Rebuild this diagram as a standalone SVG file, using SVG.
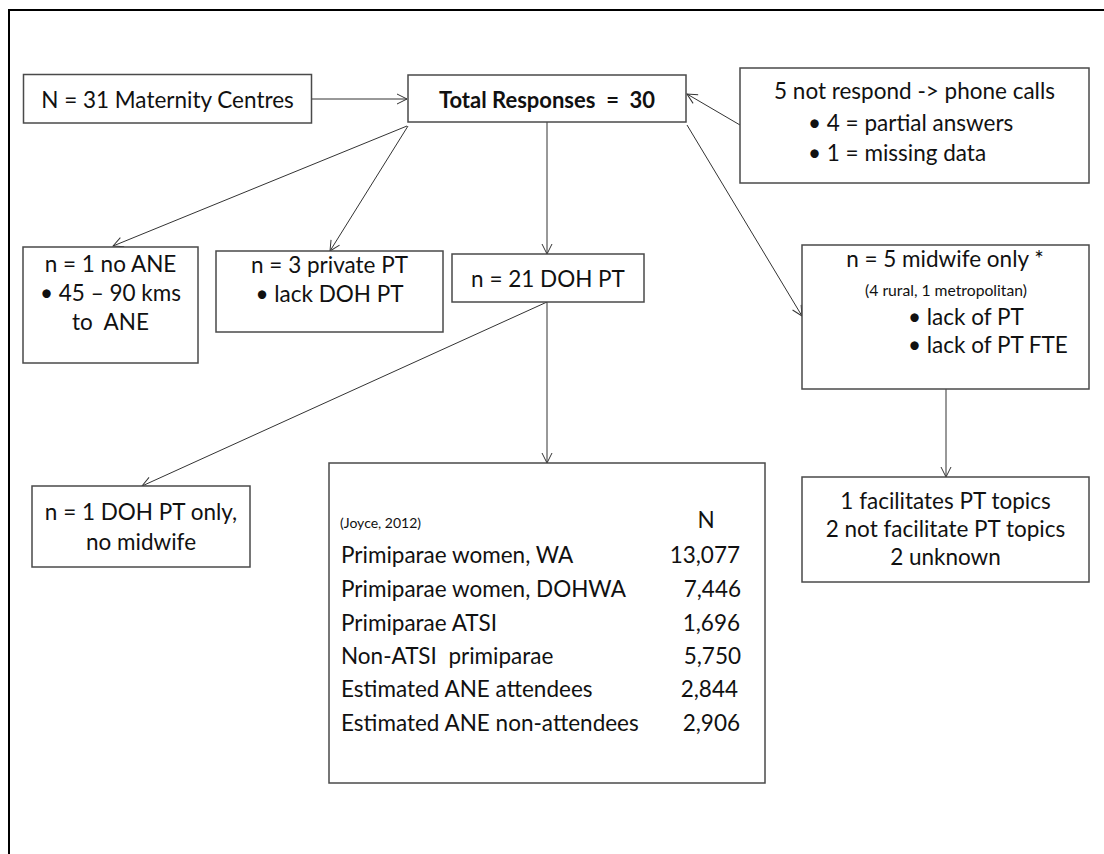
<svg xmlns="http://www.w3.org/2000/svg" width="1104" height="854" viewBox="0 0 1104 854">
<style>
.box{fill:#fff;stroke:#4a4a4a;stroke-width:1.5}
.t{font-family:Lato,"Liberation Sans",sans-serif;font-size:22.5px;fill:#111;white-space:pre}
.c{text-anchor:middle}
.e{text-anchor:end}
.s{font-size:15.7px}
.xs{font-size:14px}
.b{font-weight:bold;font-size:22px}
.conn line{stroke:#333;stroke-width:1;marker-end:url(#arr)}
</style>
<defs>
<marker id="arr" markerUnits="userSpaceOnUse" markerWidth="14" markerHeight="12" refX="11" refY="5" orient="auto" viewBox="0 0 14 10">
<path d="M1,0 L11,5 L1,10" fill="none" stroke="#333" stroke-width="1"/>
</marker>
</defs>
<rect width="1104" height="854" fill="#fff"/>
<path d="M9,854 V10 H1104" fill="none" stroke="#000" stroke-width="2"/>
<g class="conn" id="connectors">
<line x1="312" y1="99" x2="407" y2="99"/>
<line x1="740" y1="125" x2="687" y2="94"/>
<line x1="407" y1="126" x2="113" y2="246"/>
<line x1="408" y1="126" x2="330" y2="251"/>
<line x1="547" y1="122" x2="547" y2="254"/>
<line x1="687" y1="125" x2="802" y2="316"/>
<line x1="547" y1="302" x2="142" y2="486"/>
<line x1="547" y1="302" x2="547" y2="463"/>
<line x1="946" y1="389" x2="946" y2="477"/>
</g>
<g id="maternity">
<rect class="box" x="23.5" y="74.5" width="288" height="48.5"/>
<text class="t c" x="167.5" y="108">N = 31 Maternity Centres</text>
</g>
<g id="total">
<rect class="box" x="408" y="75" width="278" height="47"/>
<text class="t c b" x="547" y="108">Total Responses  =  30</text>
</g>
<g id="notrespond">
<rect class="box" x="740" y="68" width="349" height="115"/>
<text class="t c" x="914.5" y="99">5 not respond -&gt; phone calls</text>
<text class="t" x="808" y="131">• 4 = partial answers</text>
<text class="t" x="808" y="161">• 1 = missing data</text>
</g>
<g id="noane">
<rect class="box" x="23" y="247" width="175" height="116"/>
<text class="t c" x="110.5" y="272">n = 1 no ANE</text>
<text class="t c" x="110.5" y="301">• 45 – 90 kms</text>
<text class="t c" x="110.5" y="330">to  ANE</text>
</g>
<g id="private">
<rect class="box" x="216" y="251" width="227" height="81"/>
<text class="t c" x="329.5" y="273">n = 3 private PT</text>
<text class="t c" x="329.5" y="302">• lack DOH PT</text>
</g>
<g id="dohpt">
<rect class="box" x="452" y="254" width="192" height="48"/>
<text class="t c" x="548" y="287">n = 21 DOH PT</text>
</g>
<g id="midwife">
<rect class="box" x="802" y="245" width="287" height="144"/>
<text class="t c" x="945" y="267">n = 5 midwife only *</text>
<text class="t c s" x="946" y="296">(4 rural, 1 metropolitan)</text>
<text class="t" x="908" y="325">• lack of PT</text>
<text class="t" x="908" y="353">• lack of PT FTE</text>
</g>
<g id="dohonly">
<rect class="box" x="32" y="486" width="218" height="81"/>
<text class="t c" x="141" y="520">n = 1 DOH PT only,</text>
<text class="t c" x="141" y="550">no midwife</text>
</g>
<g id="table">
<rect class="box" x="329" y="463" width="436" height="320"/>
<text class="t xs" x="340" y="528">(Joyce, 2012)</text>
<text class="t c" x="706" y="528">N</text>
<text class="t" x="341" y="563">Primiparae women, WA</text>
<text class="t" x="341" y="597">Primiparae women, DOHWA</text>
<text class="t" x="341" y="631">Primiparae ATSI</text>
<text class="t" x="341" y="664">Non-ATSI  primiparae</text>
<text class="t" x="341" y="697">Estimated ANE attendees</text>
<text class="t" x="341" y="731">Estimated ANE non-attendees</text>
<text class="t e" x="740" y="563">13,077</text>
<text class="t e" x="741" y="597">7,446</text>
<text class="t e" x="740" y="631">1,696</text>
<text class="t e" x="741" y="664">5,750</text>
<text class="t e" x="738" y="697">2,844</text>
<text class="t e" x="740" y="731">2,906</text>
</g>
<g id="facilitates">
<rect class="box" x="802" y="477" width="287" height="105"/>
<text class="t c" x="945.5" y="509">1 facilitates PT topics</text>
<text class="t c" x="945.5" y="537">2 not facilitate PT topics</text>
<text class="t c" x="945.5" y="565">2 unknown</text>
</g>
</svg>
